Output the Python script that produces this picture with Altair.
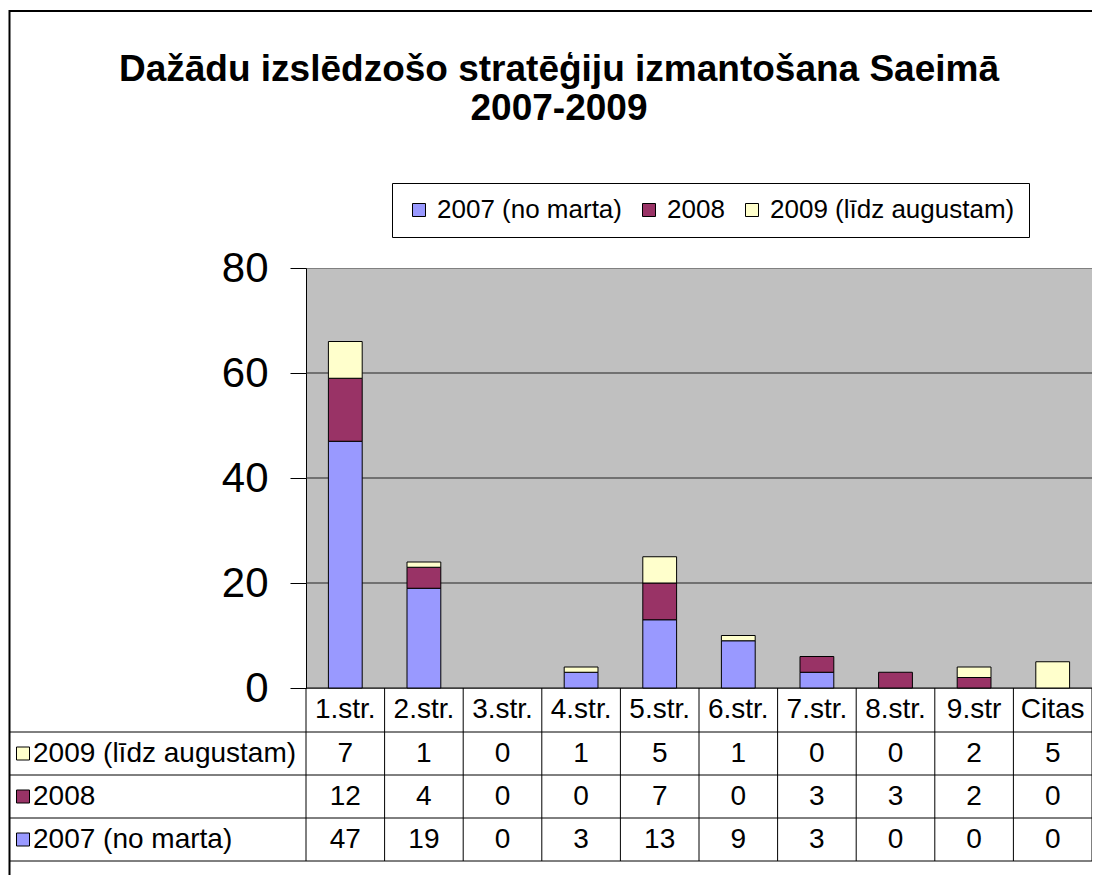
import altair as alt
import pandas as pd

# ---------------- data ----------------
categories = ["1.str.", "2.str.", "3.str.", "4.str.", "5.str.", "6.str.", "7.str.", "8.str.", "9.str", "Citas"]
series = ["2007 (no marta)", "2008", "2009 (līdz augustam)"]
v2007 = [47, 19, 0, 3, 13, 9, 3, 0, 0, 0]
v2008 = [12, 4, 0, 0, 7, 0, 3, 3, 2, 0]
v2009 = [7, 1, 0, 1, 5, 1, 0, 0, 2, 5]
colors = ["#9999FF", "#993366", "#FFFFCC"]
title_lines = ["Dažādu izslēdzošo stratēģiju izmantošana Saeimā", "2007-2009"]
y_ticks = [0, 20, 40, 60, 80]

# ---------------- layout (pixels) ----------------
N = len(categories)
PLOT_W, PLOT_H = 786, 420
Y_MAX = 80
PXY = PLOT_H / Y_MAX
PXX = PLOT_W / N
HEADER_H = 44
ROW_H = 43
LEFT_COL = 296.5       # table label column width (px left of plot)
BORDER_TOP = 257       # outer frame top (px above plot)
FONT = "Liberation Sans"
TFS = 28               # table font size
LFS = 26               # legend font size


def ydown(px):
    """pixels below the plot bottom -> y data units"""
    return -px / PXY


def xleft(px):
    """pixels left of the plot's left edge -> x units"""
    return -px / PXX


xs = alt.Scale(domain=[0, N], nice=False, zero=False)
ys = alt.Scale(domain=[0, Y_MAX], nice=False)
y_axis = alt.Axis(values=y_ticks, title=None, labelFontSize=42, labelFont=FONT,
                  labelColor="black", tickSize=16, tickColor="black", tickWidth=1,
                  domainColor="black", domainWidth=1, labelPadding=22, grid=False)


def Y(field):
    return alt.Y(field, scale=ys, axis=y_axis)


def X(field):
    return alt.X(field, scale=xs, axis=None)


# bars
all_vals = [v2007, v2008, v2009]
bar_rows = []
for i, c in enumerate(categories):
    for k, s in enumerate(series):
        bar_rows.append({"cat": c, "series": s, "ord": k, "value": all_vals[k][i]})
bars_df = pd.DataFrame(bar_rows)
bars_df = bars_df[bars_df["value"] > 0]

color_scale = alt.Scale(domain=series, range=colors)

bars = alt.Chart(bars_df).mark_bar(stroke="black", strokeWidth=1).encode(
    x=alt.X("cat:N", sort=categories,
            scale=alt.Scale(domain=categories, paddingInner=0.57, paddingOuter=0.285), axis=None),
    y=alt.Y("value:Q", stack="zero", scale=ys, axis=y_axis),
    color=alt.Color("series:N", scale=color_scale,
                    legend=alt.Legend(orient="none", legendX=86, legendY=-85, direction="horizontal",
                                      title=None, symbolType="square", symbolSize=169,
                                      symbolStrokeColor="black", symbolStrokeWidth=1, symbolOpacity=1,
                                      labelFontSize=LFS, labelFont=FONT, labelColor="black",
                                      labelLimit=600, fillColor="white", strokeColor="black",
                                      padding=14, columnPadding=14, labelOffset=5)),
    order=alt.Order("ord:Q"),
)

# gridlines (inside plot)
grid_df = pd.DataFrame([{"x": 0.0, "x2": float(N), "y": float(t)} for t in y_ticks if 0 < t < Y_MAX])
grid = alt.Chart(grid_df).mark_rule(color="#222222", strokeWidth=1).encode(
    x=X("x:Q"), x2="x2:Q", y=Y("y:Q"))

# table geometry
row_series = list(reversed(series))
row_values = [v2009, v2008, v2007]
bounds_px = [HEADER_H + ROW_H * r for r in range(len(row_series) + 1)]

hrules = pd.DataFrame(
    [{"x": 0.0, "x2": float(N), "y": 0.0}]
    + [{"x": xleft(LEFT_COL), "x2": float(N), "y": ydown(b)} for b in bounds_px]
)
vrules = pd.DataFrame([{"x": float(j), "y": 0.0, "y2": ydown(bounds_px[-1])} for j in range(N + 1)])

frame_df = pd.DataFrame([{"x": xleft(LEFT_COL), "x2": N + 0.5,
                          "y": Y_MAX + BORDER_TOP / PXY, "y2": ydown(260)}])

text_rows = []
for i, c in enumerate(categories):
    text_rows.append({"x": i + 0.5, "y": ydown(HEADER_H / 2), "t": c})
for r, vals in enumerate(row_values):
    yc = ydown(HEADER_H + ROW_H * r + ROW_H / 2)
    for i, v in enumerate(vals):
        text_rows.append({"x": i + 0.5, "y": yc, "t": str(v)})
cell_text = pd.DataFrame(text_rows)

label_df = pd.DataFrame([{"x": xleft(273), "xs": xleft(283),
                          "y": ydown(HEADER_H + ROW_H * r + ROW_H / 2), "series": s}
                         for r, s in enumerate(row_series)])

frame = alt.Chart(frame_df).mark_rect(fillOpacity=0, stroke="black", strokeWidth=2).encode(
    x=X("x:Q"), x2="x2:Q", y=Y("y:Q"), y2="y2:Q")

hr = alt.Chart(hrules).mark_rule(color="black", strokeWidth=1).encode(
    x=X("x:Q"), x2="x2:Q", y=Y("y:Q"))

vr = alt.Chart(vrules).mark_rule(color="black", strokeWidth=1).encode(
    x=X("x:Q"), y=Y("y:Q"), y2="y2:Q")

cells = alt.Chart(cell_text).mark_text(font=FONT, fontSize=TFS, color="black", align="center",
                                       baseline="middle").encode(
    x=X("x:Q"), y=Y("y:Q"), text="t:N")

labels = alt.Chart(label_df).mark_text(font=FONT, fontSize=TFS, color="black", align="left",
                                       baseline="middle").encode(
    x=X("x:Q"), y=Y("y:Q"), text="series:N")

squares = alt.Chart(label_df).mark_point(shape="square", size=169, filled=True, opacity=1,
                                         stroke="black", strokeWidth=1).encode(
    x=X("xs:Q"), y=Y("y:Q"),
    color=alt.Color("series:N", scale=color_scale, legend=None))

chart = alt.layer(grid, hr, vr, bars, cells, labels, squares, frame).resolve_scale(
    x="independent"
).properties(
    width=PLOT_W, height=PLOT_H,
    background="white",
    autosize=alt.AutoSizeParams(type="none"),
    padding={"left": 298, "top": 260, "right": 0, "bottom": 187},
    title=alt.TitleParams(title_lines, font=FONT, fontSize=37, fontWeight="bold", color="black",
                          anchor="middle", frame="group", dx=-140, offset=-118, lineHeight=39),
).configure_view(fill="#C0C0C0", stroke="#808080", strokeWidth=1)

chart.save("out.html", embed_options={"renderer": "svg", "actions": False})
